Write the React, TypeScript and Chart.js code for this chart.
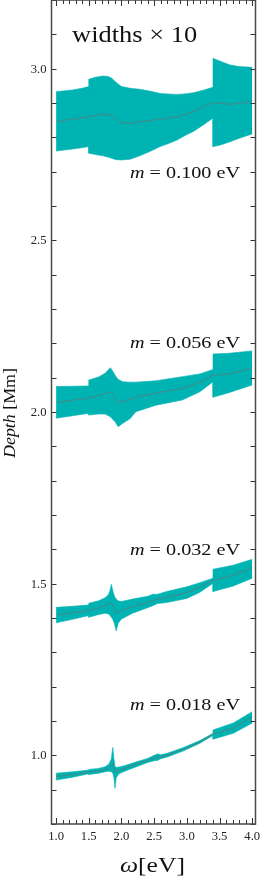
import React, { useEffect, useRef } from "react";
import { Chart, registerables } from "chart.js";

Chart.register(...registerables);

// ---------- data (Depth in Mm vs omega in eV; band half-widths shown x10) ----------
// m = 0.100 eV
const omega100 = [1.0, 1.25, 1.4, 1.5, 1.5, 1.6, 1.72, 1.8, 1.85, 1.92, 2.0, 2.13, 2.28, 2.45, 2.59, 2.72, 2.85, 3.0, 3.1, 3.25, 3.4, 3.4, 3.48, 3.55, 3.66, 3.8, 4.0];
const center100 = [2.846, 2.853, 2.857, 2.86, 2.86, 2.864, 2.868, 2.866, 2.862, 2.852, 2.843, 2.841, 2.846, 2.849, 2.853, 2.856, 2.86, 2.868, 2.875, 2.888, 2.902, 2.902, 2.9, 2.899, 2.896, 2.899, 2.906];
const upper100 = [2.933, 2.938, 2.943, 2.948, 2.969, 2.975, 2.979, 2.977, 2.972, 2.96, 2.948, 2.943, 2.94, 2.934, 2.928, 2.926, 2.925, 2.927, 2.93, 2.937, 2.946, 3.03, 3.024, 3.019, 3.011, 3.006, 3.004];
const lower100 = [2.76, 2.766, 2.77, 2.773, 2.754, 2.75, 2.746, 2.742, 2.739, 2.735, 2.734, 2.736, 2.746, 2.76, 2.773, 2.782, 2.792, 2.808, 2.817, 2.836, 2.856, 2.773, 2.776, 2.78, 2.787, 2.797, 2.81];

// m = 0.056 eV
const omega056 = [1.0, 1.25, 1.5, 1.5, 1.65, 1.75, 1.83, 1.87, 1.9, 1.95, 2.02, 2.13, 2.22, 2.53, 2.93, 3.2, 3.4, 3.4, 3.64, 4.0];
const center056 = [2.028, 2.034, 2.041, 2.041, 2.048, 2.053, 2.059, 2.052, 2.04, 2.029, 2.03, 2.036, 2.043, 2.055, 2.069, 2.086, 2.107, 2.107, 2.11, 2.129];
const upper056 = [2.074, 2.075, 2.076, 2.093, 2.102, 2.113, 2.129, 2.118, 2.108, 2.095, 2.088, 2.087, 2.087, 2.091, 2.103, 2.111, 2.124, 2.169, 2.171, 2.178];
const lower056 = [1.982, 1.989, 1.996, 1.991, 1.994, 1.994, 1.986, 1.978, 1.972, 1.957, 1.967, 1.98, 2.001, 2.02, 2.035, 2.059, 2.088, 2.043, 2.056, 2.079];

// m = 0.032 eV
const omega032 = [1.0, 1.25, 1.5, 1.5, 1.65, 1.75, 1.8, 1.825, 1.845, 1.87, 1.895, 1.92, 1.95, 2.0, 2.17, 2.4, 2.48, 2.55, 2.69, 3.0, 3.2, 3.4, 3.4, 3.71, 4.0];
const center032 = [1.409, 1.415, 1.421, 1.421, 1.43, 1.436, 1.44, 1.442, 1.443, 1.44, 1.425, 1.414, 1.417, 1.422, 1.433, 1.445, 1.451, 1.454, 1.459, 1.474, 1.489, 1.509, 1.509, 1.525, 1.545];
const upper032 = [1.431, 1.434, 1.438, 1.443, 1.45, 1.459, 1.468, 1.48, 1.498, 1.478, 1.462, 1.455, 1.45, 1.448, 1.455, 1.463, 1.469, 1.469, 1.477, 1.491, 1.503, 1.516, 1.542, 1.554, 1.571];
const lower032 = [1.386, 1.396, 1.407, 1.402, 1.41, 1.414, 1.412, 1.408, 1.402, 1.395, 1.382, 1.362, 1.385, 1.397, 1.414, 1.43, 1.436, 1.442, 1.445, 1.457, 1.475, 1.501, 1.477, 1.493, 1.516];

// m = 0.018 eV
const omega018 = [1.0, 1.25, 1.5, 1.5, 1.65, 1.75, 1.81, 1.845, 1.867, 1.885, 1.902, 1.92, 1.96, 2.05, 2.23, 2.4, 2.5, 2.55, 2.6, 2.7, 2.95, 3.2, 3.4, 3.4, 3.71, 4.0];
const center018 = [0.938, 0.944, 0.951, 0.951, 0.955, 0.959, 0.964, 0.97, 0.977, 0.965, 0.949, 0.952, 0.957, 0.962, 0.974, 0.985, 0.991, 0.994, 0.996, 1.0, 1.018, 1.039, 1.061, 1.061, 1.079, 1.112];
const upper018 = [0.948, 0.952, 0.957, 0.959, 0.962, 0.967, 0.975, 0.99, 1.023, 0.99, 0.967, 0.965, 0.966, 0.97, 0.981, 0.991, 1.0, 1.004, 1.002, 1.006, 1.023, 1.043, 1.064, 1.074, 1.094, 1.127];
const lower018 = [0.928, 0.936, 0.946, 0.944, 0.948, 0.952, 0.954, 0.952, 0.948, 0.935, 0.904, 0.935, 0.946, 0.954, 0.967, 0.979, 0.984, 0.985, 0.99, 0.995, 1.013, 1.035, 1.058, 1.047, 1.064, 1.094];

const massLabels = ["0.100", "0.056", "0.032", "0.018"];
const labelDepths = [2.682, 2.186, 1.583, 1.132];
const labelOmegaRight = 3.813;

const xTickLabels = [1.0, 1.5, 2.0, 2.5, 3.0, 3.5, 4.0];
const yTickLabels = [1.0, 1.5, 2.0, 2.5, 3.0];
const xMin = 0.93;
const xMax = 4.05;
const yMin = 0.8;
const yMax = 3.2;

const TEAL = "#00b3b3";
const CENTER_LINE = "rgba(105,115,115,0.9)";
const FONT = '"Liberation Serif", "Times New Roman", serif';

const bands = [
  { omega: omega100, center: center100, upper: upper100, lower: lower100 },
  { omega: omega056, center: center056, upper: upper056, lower: lower056 },
  { omega: omega032, center: center032, upper: upper032, lower: lower032 },
  { omega: omega018, center: center018, upper: upper018, lower: lower018 },
];

const xy = (xs: number[], ys: number[]) => xs.map((x, i) => ({ x, y: ys[i] }));

type Part = [string, boolean];

function drawParts(
  ctx: CanvasRenderingContext2D,
  parts: Part[],
  x: number,
  y: number,
  size: number,
  align: "left" | "right" | "center",
  targetWidth?: number,
  sxDefault = 1
) {
  ctx.save();
  ctx.textBaseline = "alphabetic";
  ctx.textAlign = "left";
  const widths = parts.map(([t, it]) => {
    ctx.font = `${it ? "italic " : ""}${size}px ${FONT}`;
    return ctx.measureText(t).width;
  });
  const natural = widths.reduce((a, b) => a + b, 0);
  const sx = targetWidth ? targetWidth / natural : sxDefault;
  const total = natural * sx;
  const start = align === "left" ? x : align === "right" ? x - total : x - total / 2;
  ctx.translate(start, y);
  ctx.scale(sx, 1);
  let cx = 0;
  parts.forEach(([t, it], i) => {
    ctx.font = `${it ? "italic " : ""}${size}px ${FONT}`;
    ctx.fillText(t, cx, 0);
    cx += widths[i];
  });
  ctx.restore();
}

const decorPlugin = {
  id: "decor",
  afterDatasetsDraw(chart: any) {
    const { ctx, chartArea: a, scales } = chart;
    const xs = scales.x;
    const ys = scales.y;
    ctx.save();

    // inward ticks
    ctx.strokeStyle = "#333";
    ctx.lineWidth = 1;
    ctx.beginPath();
    for (let k = 8; k <= 32; k++) {
      const py = Math.round(ys.getPixelForValue(k / 10)) + 0.5;
      ctx.moveTo(a.left, py);
      ctx.lineTo(a.left + 5, py);
      ctx.moveTo(a.right, py);
      ctx.lineTo(a.right - 5, py);
    }
    for (let k = 10; k <= 40; k++) {
      const px = Math.round(xs.getPixelForValue(k / 10)) + 0.5;
      const len = k % 5 === 0 ? 6 : 4;
      ctx.moveTo(px, a.bottom);
      ctx.lineTo(px, a.bottom - len);
      ctx.moveTo(px, a.top);
      ctx.lineTo(px, a.top + len);
    }
    ctx.stroke();

    // frame
    ctx.strokeStyle = "#4a4a4a";
    ctx.lineWidth = 1.5;
    ctx.strokeRect(a.left, a.top, a.right - a.left, a.bottom - a.top);

    // tick labels
    ctx.fillStyle = "#222";
    xTickLabels.forEach((v) => {
      drawParts(ctx, [[v.toFixed(1), false]], xs.getPixelForValue(v), a.bottom + 15.5, 11.5, "center", undefined, 1.1);
    });
    yTickLabels.forEach((v) => {
      drawParts(ctx, [[v.toFixed(1), false]], a.left - 5, ys.getPixelForValue(v) + 3.9, 11.5, "right", undefined, 1.1);
    });

    // axis titles
    ctx.fillStyle = "#111";
    drawParts(ctx, [["\u03c9", true], ["[eV]", false]], (a.left + a.right) / 2 - 1, 872, 22, "center", 65);
    ctx.save();
    ctx.translate(15, (a.top + a.bottom) / 2 + 1);
    ctx.rotate(-Math.PI / 2);
    drawParts(ctx, [["Depth", true], [" [Mm]", false]], 0, 0, 16, "center", 90);
    ctx.restore();

    // annotations
    drawParts(ctx, [["widths \u00d7 10", false]], xs.getPixelForValue(1.245), ys.getPixelForValue(3.078), 23, "left", 125);
    massLabels.forEach((m, i) => {
      drawParts(
        ctx,
        [["m", true], [` = ${m} eV`, false]],
        xs.getPixelForValue(labelOmegaRight),
        ys.getPixelForValue(labelDepths[i]),
        17,
        "right",
        110
      );
    });

    ctx.restore();
  },
};

export default function App() {
  const ref = useRef<HTMLCanvasElement | null>(null);

  useEffect(() => {
    document.body.style.margin = "0";
    const canvas = ref.current;
    if (!canvas) return;
    const datasets: any[] = [];
    bands.forEach((b) => {
      datasets.push({
        data: xy(b.omega, b.upper),
        borderColor: TEAL,
        backgroundColor: TEAL,
        borderWidth: 0.6,
        pointRadius: 0,
        tension: 0,
        fill: "+1",
        order: 2,
      });
      datasets.push({
        data: xy(b.omega, b.lower),
        borderColor: TEAL,
        backgroundColor: TEAL,
        borderWidth: 0.6,
        pointRadius: 0,
        tension: 0,
        fill: false,
        order: 2,
      });
      datasets.push({
        data: xy(b.omega, b.center),
        borderColor: CENTER_LINE,
        borderWidth: 0.8,
        pointRadius: 0,
        tension: 0,
        fill: false,
        order: 0,
      });
    });

    const chart = new Chart(canvas, {
      type: "line",
      data: { datasets },
      options: {
        animation: false,
        responsive: false,
        devicePixelRatio: 1,
        parsing: false,
        layout: { padding: { left: 51.5, right: 5.5, top: 0, bottom: 57 } },
        plugins: { legend: { display: false }, tooltip: { enabled: false } },
        scales: {
          x: { type: "linear", min: xMin, max: xMax, display: false },
          y: { type: "linear", min: yMin, max: yMax, display: false },
        },
      } as any,
      plugins: [decorPlugin],
    });
    return () => chart.destroy();
  }, []);

  return (
    <div style={{ position: "fixed", left: 0, top: 0, width: 261, height: 881, background: "#fff" }}>
      <canvas ref={ref} width={261} height={881} style={{ display: "block" }} />
    </div>
  );
}
